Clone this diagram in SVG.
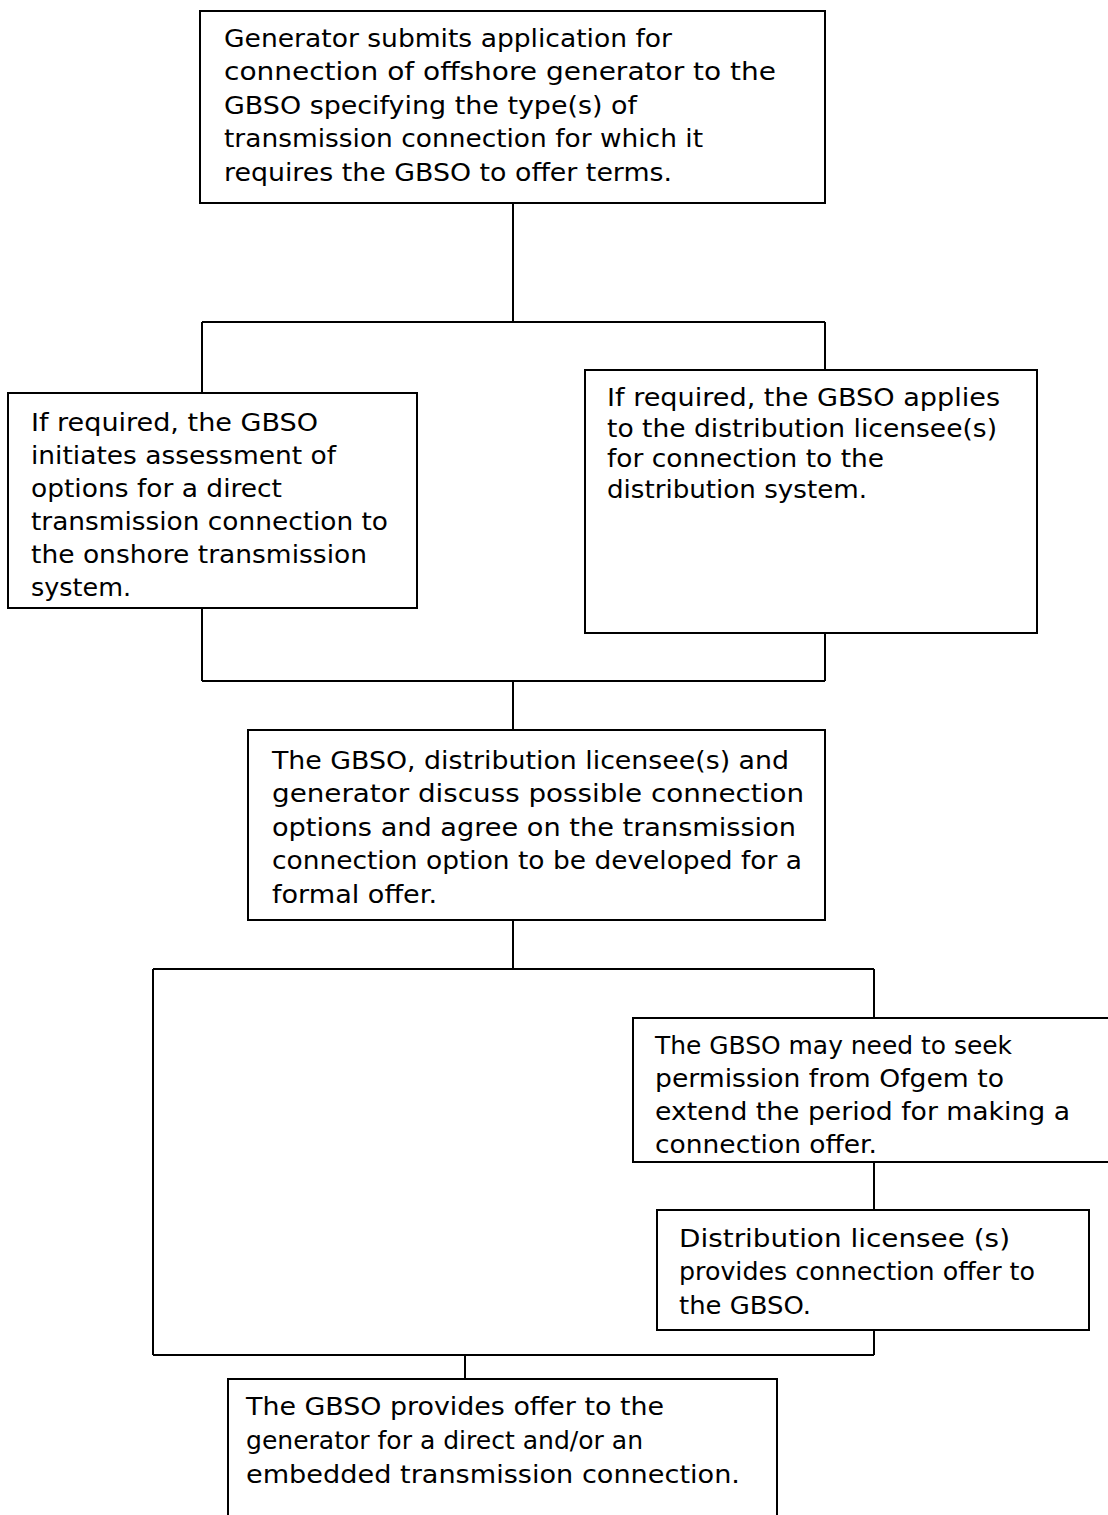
<svg xmlns="http://www.w3.org/2000/svg" width="1108" height="1515" viewBox="0 0 1108 1515">
<style>
.box{fill:#fff;stroke:#000;stroke-width:2}
.ln{fill:none;stroke:#000;stroke-width:2}
text{font-family:"DejaVu Sans",Verdana,sans-serif;font-size:24px;fill:#000}
</style>
<defs>
<clipPath id="clipOfgem"><rect x="634" y="1019" width="480" height="142"/></clipPath>
</defs>
<g id="connectors">
<path class="ln" d="M513 203V322M202 322H825M202 322V393M825 322V370"/>
<path class="ln" d="M202 608V681M825 633V681M202 681H825M513 681V730"/>
<path class="ln" d="M513 920V969M153 969H874M153 969V1355M874 969V1018"/>
<path class="ln" d="M874 1162V1210M874 1330V1355M153 1355H874M465 1355V1379"/>
</g>
<g id="n1">
<rect class="box" x="200" y="11" width="625" height="192"/>
<text x="224" y="47" textLength="448" lengthAdjust="spacingAndGlyphs">Generator submits application for</text>
<text x="224" y="80" textLength="552" lengthAdjust="spacingAndGlyphs">connection of offshore generator to the</text>
<text x="224" y="114" textLength="413" lengthAdjust="spacingAndGlyphs">GBSO specifying the type(s) of</text>
<text x="224" y="147" textLength="479" lengthAdjust="spacingAndGlyphs">transmission connection for which it</text>
<text x="224" y="181" textLength="448" lengthAdjust="spacingAndGlyphs">requires the GBSO to offer terms.</text>
</g>
<g id="n2">
<rect class="box" x="8" y="393" width="409" height="215"/>
<text x="31" y="431" textLength="287" lengthAdjust="spacingAndGlyphs">If required, the GBSO</text>
<text x="31" y="464" textLength="305" lengthAdjust="spacingAndGlyphs">initiates assessment of</text>
<text x="31" y="497" textLength="251" lengthAdjust="spacingAndGlyphs">options for a direct</text>
<text x="31" y="530" textLength="357" lengthAdjust="spacingAndGlyphs">transmission connection to</text>
<text x="31" y="563" textLength="336" lengthAdjust="spacingAndGlyphs">the onshore transmission</text>
<text x="31" y="596" textLength="100" lengthAdjust="spacingAndGlyphs">system.</text>
</g>
<g id="n3">
<rect class="box" x="585" y="370" width="452" height="263"/>
<text x="607" y="406" textLength="393" lengthAdjust="spacingAndGlyphs">If required, the GBSO applies</text>
<text x="607" y="437" textLength="390" lengthAdjust="spacingAndGlyphs">to the distribution licensee(s)</text>
<text x="607" y="467" textLength="277" lengthAdjust="spacingAndGlyphs">for connection to the</text>
<text x="607" y="498" textLength="260" lengthAdjust="spacingAndGlyphs">distribution system.</text>
</g>
<g id="n4">
<rect class="box" x="248" y="730" width="577" height="190"/>
<text x="272" y="769" textLength="517" lengthAdjust="spacingAndGlyphs">The GBSO, distribution licensee(s) and</text>
<text x="272" y="802" textLength="532" lengthAdjust="spacingAndGlyphs">generator discuss possible connection</text>
<text x="272" y="836" textLength="524" lengthAdjust="spacingAndGlyphs">options and agree on the transmission</text>
<text x="272" y="869" textLength="530" lengthAdjust="spacingAndGlyphs">connection option to be developed for a</text>
<text x="272" y="903" textLength="165" lengthAdjust="spacingAndGlyphs">formal offer.</text>
</g>
<g id="n5">
<rect class="box" x="633" y="1018" width="490" height="144"/>
<g clip-path="url(#clipOfgem)">
<text x="655" y="1054" textLength="357" lengthAdjust="spacingAndGlyphs">The GBSO may need to seek</text>
<text x="655" y="1087" textLength="349" lengthAdjust="spacingAndGlyphs">permission from Ofgem to</text>
<text x="655" y="1120" textLength="415" lengthAdjust="spacingAndGlyphs">extend the period for making a</text>
<text x="655" y="1153" textLength="222" lengthAdjust="spacingAndGlyphs">connection offer.</text>
</g>
</g>
<g id="n6">
<rect class="box" x="657" y="1210" width="432" height="120"/>
<text x="679" y="1247" textLength="331" lengthAdjust="spacingAndGlyphs">Distribution licensee (s)</text>
<text x="679" y="1280" textLength="356" lengthAdjust="spacingAndGlyphs">provides connection offer to</text>
<text x="679" y="1314" textLength="132" lengthAdjust="spacingAndGlyphs">the GBSO.</text>
</g>
<g id="n7">
<rect class="box" x="228" y="1379" width="549" height="160"/>
<text x="246" y="1415" textLength="418" lengthAdjust="spacingAndGlyphs">The GBSO provides offer to the</text>
<text x="246" y="1449" textLength="397" lengthAdjust="spacingAndGlyphs">generator for a direct and/or an</text>
<text x="246" y="1483" textLength="494" lengthAdjust="spacingAndGlyphs">embedded transmission connection.</text>
</g>
</svg>
